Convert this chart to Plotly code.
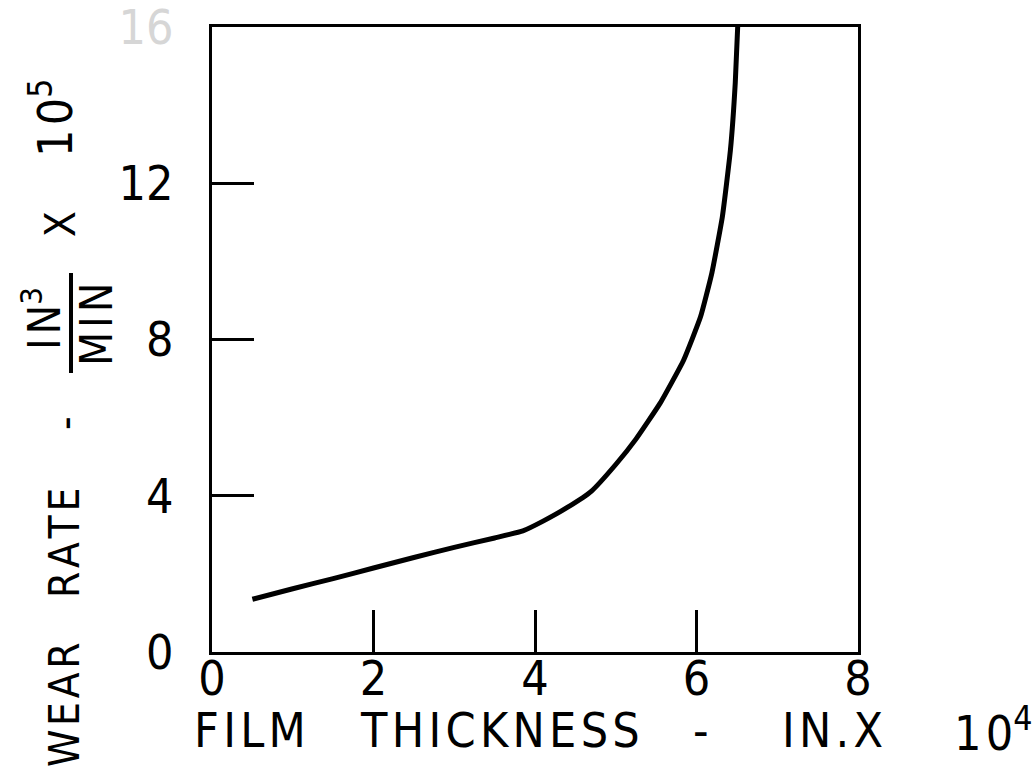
import plotly.graph_objects as go

# Wear rate versus film thickness
film_thickness = [0.5, 1.0, 1.5, 2.0, 2.5, 3.0, 3.5, 3.85, 4.1, 4.4, 4.7, 5.0,
                  5.25, 5.55, 5.84, 6.05, 6.19, 6.32, 6.42, 6.48, 6.51]
wear_rate = [1.35, 1.62, 1.88, 2.15, 2.42, 2.68, 2.92, 3.1, 3.35, 3.7, 4.12, 4.8,
             5.45, 6.37, 7.47, 8.58, 9.7, 11.14, 12.85, 14.57, 16.0]

x_ticks = [0, 2, 4, 6, 8]
x_tick_text = ["0", "2", "4", "6", "8"]
y_ticks = [0, 4, 8, 12, 16]
y_tick_text = ["0", "4", "8", "12", "<span style='color:#d6d6d6'>16</span>"]

W, H = 1034, 774
L, R, T, B = 212, 176, 27, 122
PW, PH = W - L - R, H - T - B

FONT = "DejaVu Sans Condensed, DejaVu Sans, sans-serif"
HS = "\u200a"  # hair space used for letter tracking


def px(x):
    return (x - L) / PW


def py(y):
    return (H - B - y) / PH


def track(word):
    return HS.join(word)


fig = go.Figure()
fig.add_trace(go.Scatter(
    x=film_thickness, y=wear_rate, mode="lines",
    line=dict(color="black", width=5, shape="spline", smoothing=0.4),
    hoverinfo="skip", showlegend=False,
))

axis_common = dict(
    showgrid=False, zeroline=False, showline=True, mirror=True,
    linecolor="black", linewidth=3,
    ticks="inside", ticklen=42, tickwidth=3, tickcolor="black",
    tickfont=dict(family=FONT, size=48, color="black"),
    ticklabeloverflow="allow", automargin=False,
)

fig.update_xaxes(range=[0, 8], tickmode="array", tickvals=x_ticks,
                 ticktext=x_tick_text, ticklabelstandoff=-18, **axis_common)
fig.update_yaxes(range=[0, 16], tickmode="array", tickvals=y_ticks,
                 ticktext=y_tick_text, ticklabelstandoff=26, **axis_common)

ann = []
# x-axis title, word by word
x_words = [("FILM", 250), ("THICKNESS", 500), ("-", 701), ("IN.X", 832)]
for w, cx in x_words:
    ann.append(dict(text=track(w), x=px(cx), y=py(730), xref="paper", yref="paper",
                    xanchor="center", yanchor="middle", showarrow=False,
                    font=dict(family=FONT, size=48, color="black")))
ann.append(dict(text="1" + HS + "0<sup>4</sup>", x=px(993), y=py(730),
                xref="paper", yref="paper", xanchor="center", yanchor="middle",
                showarrow=False,
                font=dict(family=FONT, size=48, color="black")))

# y-axis title, rotated
y_words = [("WEAR", 64, 705), ("RATE", 64, 543), ("-", 66, 423),
           ("X", 60, 224)]
for w, cx, cy in y_words:
    ann.append(dict(text=track(w), x=px(cx), y=py(cy), xref="paper", yref="paper",
                    xanchor="center", yanchor="middle", showarrow=False,
                    textangle=-90,
                    font=dict(family=FONT, size=42, color="black")))
ann.append(dict(text="1" + HS + "0<sup>5</sup>", x=px(52), y=py(118),
                xref="paper", yref="paper", xanchor="center", yanchor="middle",
                showarrow=False, textangle=-90,
                font=dict(family=FONT, size=48, color="black")))
# units fraction: IN^3 over MIN
ann.append(dict(text=track("IN") + "<sup>3</sup>", x=px(42), y=py(319),
                xref="paper", yref="paper", xanchor="center", yanchor="middle",
                showarrow=False, textangle=-90,
                font=dict(family=FONT, size=44, color="black")))
ann.append(dict(text=track("MIN"), x=px(96), y=py(325),
                xref="paper", yref="paper", xanchor="center", yanchor="middle",
                showarrow=False, textangle=-90,
                font=dict(family=FONT, size=44, color="black")))

fig.update_layout(
    width=W, height=H,
    margin=dict(l=L, r=R, t=T, b=B),
    paper_bgcolor="white", plot_bgcolor="white",
    showlegend=False,
    annotations=ann,
    shapes=[dict(type="line", xref="paper", yref="paper",
                 x0=px(71), x1=px(71), y0=py(273), y1=py(373),
                 line=dict(color="black", width=4))],
)

fig.write_html("out.html")
